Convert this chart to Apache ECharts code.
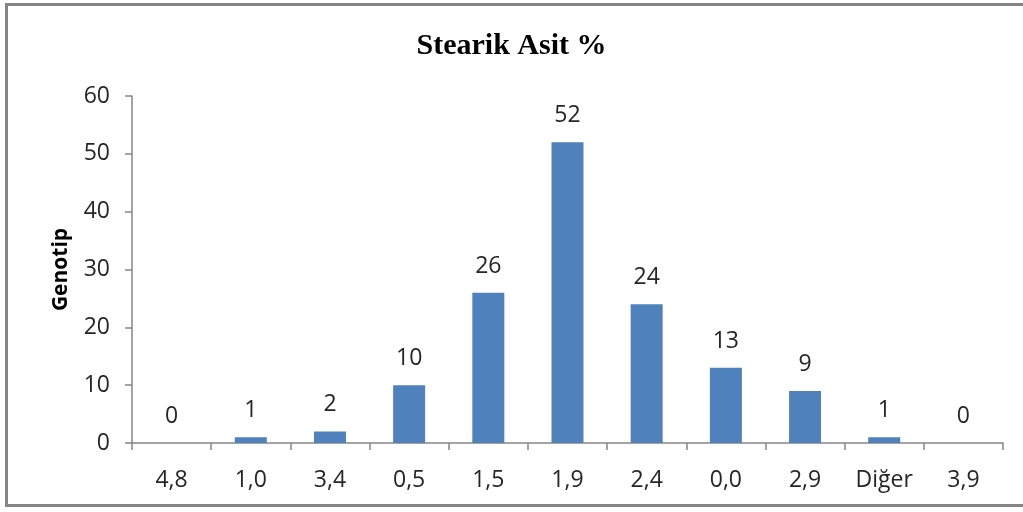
<!DOCTYPE html>
<html>
<head>
<meta charset="utf-8">
<script src="https://cdn.jsdelivr.net/npm/echarts@6/dist/echarts.min.js"></script>
<style>
    html, body { margin: 0; padding: 0; background: #fff; }
    #frame {
        position: absolute;
        left: 5px;
        top: 3px;
        width: 1030px;
        height: 504px;
        border: 3px solid #858585;
        box-sizing: border-box;
    }
    #main { position: absolute; left: 0; top: 0; width: 1023px; height: 512px; }
</style>
</head>
<body>
<div id="frame"></div>
<div id="main"></div>
<script>
// Stearik asit kategorileri ve genotip sayıları
const categories = ["4,8", "1,0", "3,4", "0,5", "1,5", "1,9", "2,4", "0,0", "2,9", "Diğer", "3,9"];
const genotipCounts = [0, 1, 2, 10, 26, 52, 24, 13, 9, 1, 0];
const yTicks = [0, 10, 20, 30, 40, 50, 60];

const chart = echarts.init(document.getElementById("main"));

const axisColor = "#868686";
const textColor = "#262626";
const labelFont = "Open Sans";

const options = {
    animation: false,
    title: {
        text: "Stearik Asit %",
        left: "center",
        top: 26,
        textStyle: {
            fontFamily: "Liberation Serif",
            fontWeight: "bold",
            fontSize: 30,
            color: "#000",
        },
    },
    grid: {
        left: 132,
        right: 20,
        top: 96,
        bottom: 69,
    },
    xAxis: {
        type: "category",
        data: categories,
        axisLine: { lineStyle: { color: axisColor, width: 1.5 } },
        axisTick: { show: true, interval: 0, length: 7, lineStyle: { color: axisColor, width: 1.5 } },
        axisLabel: {
            interval: 0,
            margin: 26,
            fontFamily: labelFont,
            fontSize: 23,
            color: textColor,
        },
    },
    yAxis: {
        type: "value",
        min: yTicks[0],
        max: yTicks[yTicks.length - 1],
        interval: 10,
        name: "Genotip",
        nameLocation: "middle",
        nameRotate: 90,
        nameGap: 60,
        nameTextStyle: {
            fontFamily: labelFont,
            fontWeight: "bold",
            fontSize: 21,
            color: "#000",
        },
        splitLine: { show: false },
        axisLine: { show: true, lineStyle: { color: axisColor, width: 1.5 } },
        axisTick: { show: true, length: 7, lineStyle: { color: axisColor, width: 1.5 } },
        axisLabel: {
            margin: 22,
            fontFamily: labelFont,
            fontSize: 23,
            color: textColor,
        },
    },
    series: [
        {
            name: "Genotip",
            type: "bar",
            data: genotipCounts,
            barWidth: 32,
            itemStyle: { color: "#4f81bd" },
            label: {
                show: true,
                position: "top",
                distance: 15,
                fontFamily: labelFont,
                fontSize: 23,
                color: textColor,
            },
        },
    ],
};

chart.setOption(options);
</script>
</body>
</html>
